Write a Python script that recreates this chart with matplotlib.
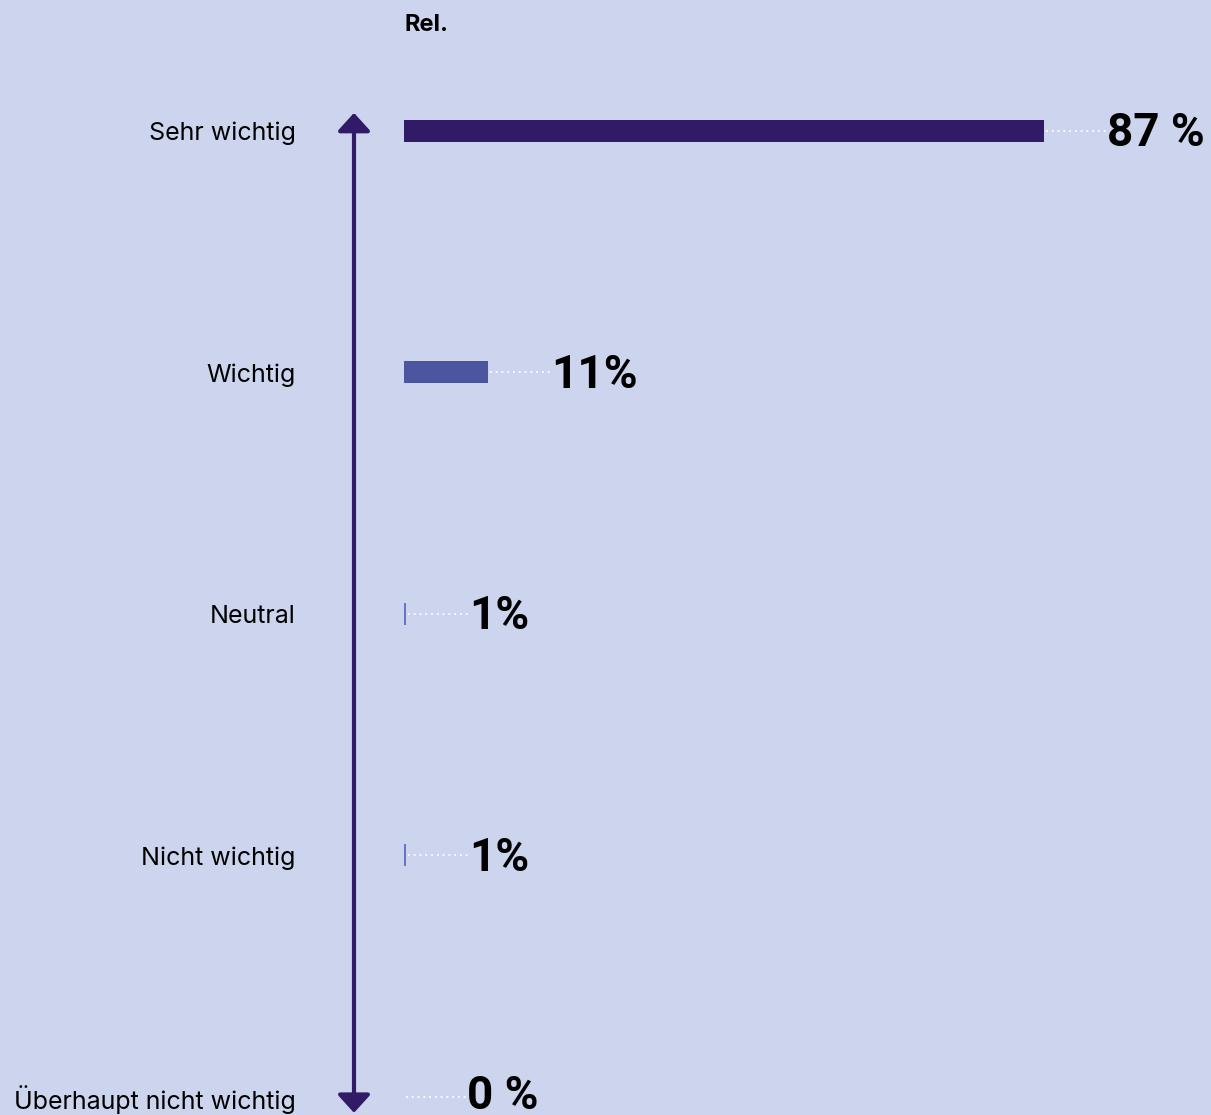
import matplotlib.pyplot as plt

# data
categories = ["Sehr wichtig", "Wichtig", "Neutral", "Nicht wichtig", "Überhaupt nicht wichtig"]
values = [87.0, 11.4, 0.3, 0.3, 0.0]
value_labels = ["87 %", "11%", "1%", "1%", "0 %"]
bar_colors = ["#311b66", "#4b55a0", "#6a74c4", "#6a74c4", "#6a74c4"]

bg = "#cdd5ee"
dark = "#311b66"

plt.rcParams['font.family'] = ['Inter', 'DejaVu Sans']

fig = plt.figure(figsize=(12.11, 11.15), dpi=100, facecolor=bg)
ax = fig.add_axes([404 / 1211, 0, 807 / 1211, 1])
ax.set_facecolor(bg)

px_per_pct = 640 / 87
ax.set_xlim(0, 807 / px_per_pct)
ax.set_ylim(4.075, -0.542)

ypos = list(range(len(categories)))
ax.barh(ypos, values, height=22 / 241.5, color=bar_colors, left=0)

gap = 62 / px_per_pct
for y, v, lab in zip(ypos, values, value_labels):
    ax.plot([v + 0.3, v + gap], [y, y], color="white", lw=1.3,
            linestyle=(0, (1, 2.2)), clip_on=False)
    # last label sits at the bottom edge, keep it inside
    dy = 0.01 if y < len(categories) - 1 else -0.005
    ax.text(v + gap + 0.2, y + dy, lab, va="center", ha="left", fontsize=33,
            fontweight="bold", color="black", family=["Roboto", "DejaVu Sans"])

ax.set_yticks(ypos)
ax.set_yticklabels(categories, fontsize=18)
ax.tick_params(axis="y", length=0, pad=78)
ax.set_xticks([])
for s in ax.spines.values():
    s.set_visible(False)

# vertical double arrow
ax_x = (354 - 404) / px_per_pct
ax.annotate("", xy=(ax_x, -0.0745), xytext=(ax_x, 4.066),
            arrowprops=dict(arrowstyle="<|-|>,head_length=1.1,head_width=1.0",
                            color=dark, lw=3, shrinkA=0, shrinkB=0),
            annotation_clip=False)

fig.text(404 / 1211, 1 - 25 / 1115, "Rel.", fontsize=17, fontweight="bold",
         va="center", ha="left")

fig.savefig("out.png", dpi=100, facecolor=bg)
